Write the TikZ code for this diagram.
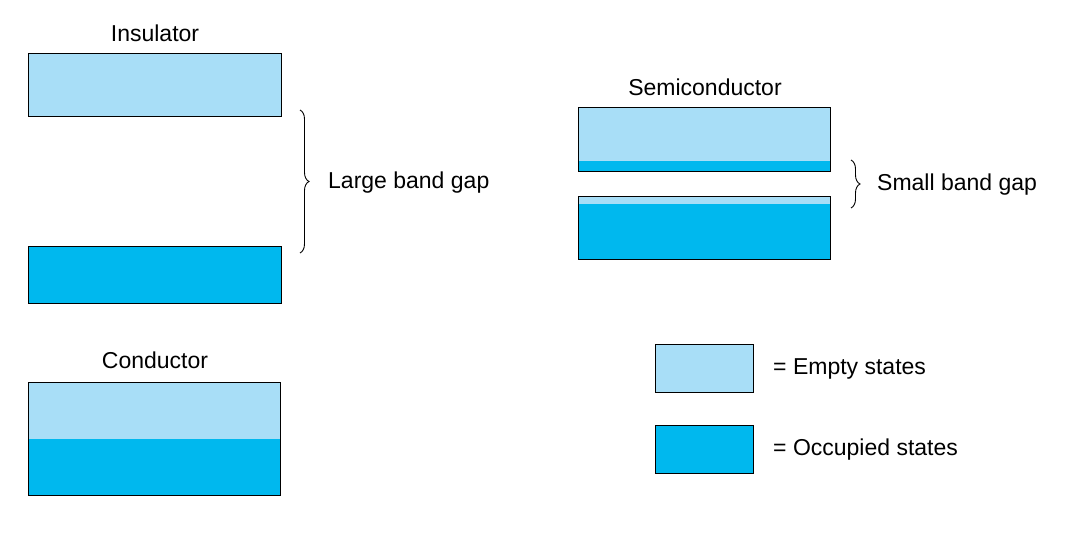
\documentclass[tikz,border=0pt]{standalone}
\usepackage{fontspec}
\setmainfont{Liberation Sans}
\usetikzlibrary{decorations.pathreplacing}
\definecolor{emptyc}{HTML}{A8DEF7}
\definecolor{occc}{HTML}{00B8EE}
\begin{document}
\begin{tikzpicture}[x=1pt,y=-1pt,
  box/.style={draw=black,line width=1.3pt,anchor=north west,inner sep=0pt,minimum width=253pt},
  lbl/.style={font=\fontsize{23}{26}\selectfont,inner sep=0pt},
  br/.style={decorate,decoration={brace,amplitude=9pt},line width=0.9pt}]
\useasboundingbox (0,0) rectangle (1080,540);
% Insulator
\node[lbl] (tins) at (155,33) {Insulator};
\node[box,fill=emptyc,minimum height=63pt] (ins1) at (28,53) {};
\node[box,fill=occc,minimum height=57pt] (ins2) at (28,246) {};
\draw[br] (300,110) -- (300,253);
\node[lbl,anchor=west] (lbg) at (328,183) {Large band gap};
% Semiconductor
\node[lbl] (tsem) at (705,87) {Semiconductor};
\fill[emptyc] (578,107) rectangle (830,161);
\fill[occc] (578,161) rectangle (830,171);
\node[box,minimum width=252pt,minimum height=64pt] (sem1) at (578,107) {};
\fill[emptyc] (578,196) rectangle (830,204);
\fill[occc] (578,204) rectangle (830,259);
\node[box,minimum width=252pt,minimum height=63pt] (sem2) at (578,196) {};
\draw[br] (851,160) -- (851,208);
\node[lbl,anchor=west] (sbg) at (877,185) {Small band gap};
% Conductor
\node[lbl] (tcon) at (155,360) {Conductor};
\fill[emptyc] (28,382) rectangle (280,439);
\fill[occc] (28,439) rectangle (280,495);
\node[box,minimum width=252pt,minimum height=113pt] (con) at (28,382) {};
% Legend
\node[box,fill=emptyc,minimum width=98pt,minimum height=48pt] (le) at (655,344) {};
\node[lbl,anchor=west] (tle) at (773,369) {= Empty states};
\node[box,fill=occc,minimum width=98pt,minimum height=48pt] (lo) at (655,425) {};
\node[lbl,anchor=west] (tlo) at (773,450) {= Occupied states};
\end{tikzpicture}
\end{document}
